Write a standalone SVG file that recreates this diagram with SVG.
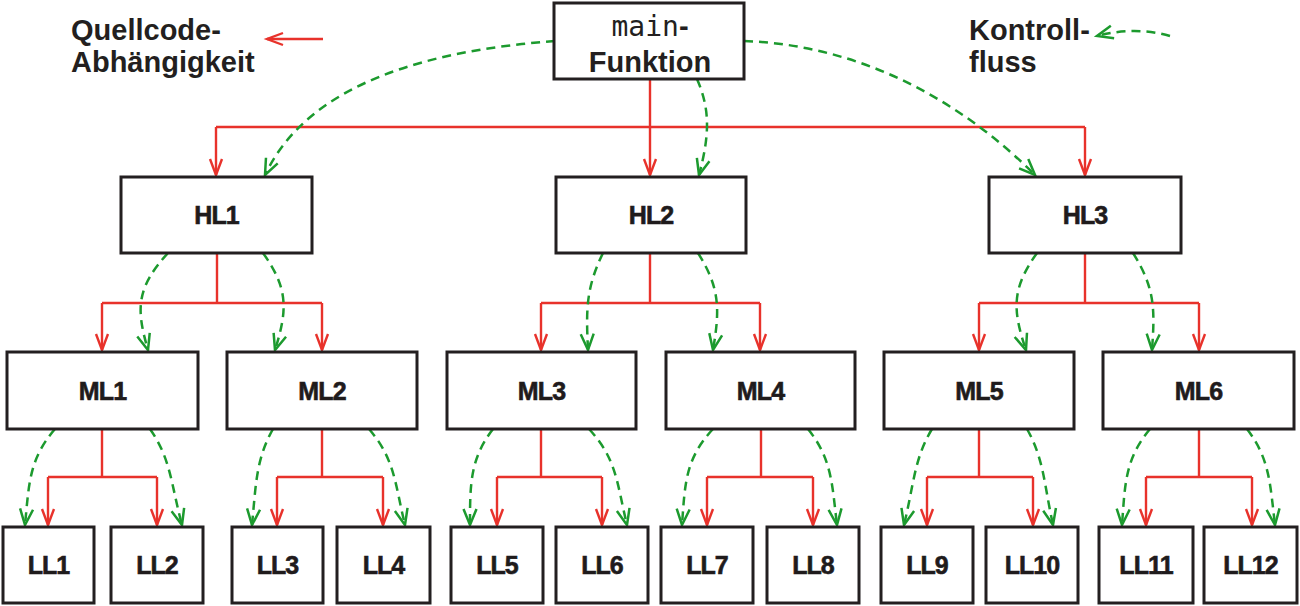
<svg xmlns="http://www.w3.org/2000/svg" width="1300" height="606" viewBox="0 0 1300 606">
<style>
.box{fill:#fff;stroke:#231f20;stroke-width:3}
.lbl{font-family:"Liberation Sans",Arial,sans-serif;font-weight:bold;font-size:25px;letter-spacing:-0.9px;fill:#1f1b1c;stroke:#1f1b1c;stroke-width:0.6;text-anchor:middle}
.big{font-family:"Liberation Sans",Arial,sans-serif;font-weight:bold;font-size:29px;fill:#231f20}
.mono{font-family:"DejaVu Sans Mono","Liberation Mono",monospace;font-weight:normal;font-size:28px}
.red{fill:none;stroke:#e8322b;stroke-width:2.4}
.redA{fill:none;stroke:#e8322b;stroke-width:2.4;marker-end:url(#ar)}
.grn{fill:none;stroke:#1c9a2e;stroke-width:2.5;stroke-dasharray:9 6;marker-end:url(#ag)}
</style>
<defs>
<marker id="ar" markerUnits="userSpaceOnUse" markerWidth="22" markerHeight="22" refX="0" refY="0" orient="auto" viewBox="-18 -9 22 18" overflow="visible">
<path d="M-16,-6 L0,0 L-16,6" fill="none" stroke="#e8322b" stroke-width="2.4"/>
</marker>
<marker id="ag" markerUnits="userSpaceOnUse" markerWidth="22" markerHeight="22" refX="0" refY="0" orient="auto" viewBox="-18 -9 22 18" overflow="visible">
<path d="M-16,-6.5 L0,0 L-16,6.5" fill="none" stroke="#1c9a2e" stroke-width="2.5"/>
</marker>
</defs>
<rect width="1300" height="606" fill="#fff"/>

<g id="legend">
<text class="big" x="71" y="40">Quellcode-</text>
<text class="big" x="71" y="72">Abhängigkeit</text>
<text class="big" x="969" y="40">Kontroll-</text>
<text class="big" x="969" y="72">fluss</text>
</g>

<g id="connectors">
<path class="redA" d="M323,39 L267,39"/>
<path class="grn" d="M1170,36 Q1135,26 1097,36"/>
<!-- main to HL -->
<path class="red" d="M650,79 L650,127 M216,127 L1085,127"/>
<path class="redA" d="M650,127 L650,175"/>
<path class="redA" d="M216,127 L216,175"/>
<path class="redA" d="M1085,127 L1085,175"/>
<path class="grn" d="M555,41 C435,50 310,80 265,175"/>
<path class="grn" d="M744,41 C860,45 960,100 1035,175"/>
<path class="grn" d="M697,79 C710,109 710,134 699,175"/>
<!-- HL to ML -->
<path class="red" d="M217,253 L217,303 M102,303 L322,303"/>
<path class="redA" d="M102,303 L102,350"/>
<path class="redA" d="M322,303 L322,350"/>
<path class="red" d="M650,253 L650,303 M541,303 L760,303"/>
<path class="redA" d="M541,303 L541,350"/>
<path class="redA" d="M760,303 L760,350"/>
<path class="red" d="M1085,253 L1085,303 M979,303 L1199,303"/>
<path class="redA" d="M979,303 L979,350"/>
<path class="redA" d="M1199,303 L1199,350"/>
<path class="grn" d="M168,253 C136,288 136,309 148,350"/>
<path class="grn" d="M263,253 C288,288 288,309 275,350"/>
<path class="grn" d="M603,253 C586,288 586,309 588,350"/>
<path class="grn" d="M698,253 C720,288 720,309 713,350"/>
<path class="grn" d="M1037,253 C1012,288 1012,309 1026,350"/>
<path class="grn" d="M1133,253 C1155,288 1155,309 1152,350"/>
<!-- ML to LL -->
<path class="red" d="M102,429 L102,477 M48,477 L157,477"/>
<path class="redA" d="M48,477 L48,525"/>
<path class="redA" d="M157,477 L157,525"/>
<path class="red" d="M322,429 L322,477 M277,477 L383,477"/>
<path class="redA" d="M277,477 L277,525"/>
<path class="redA" d="M383,477 L383,525"/>
<path class="red" d="M541,429 L541,477 M497,477 L602,477"/>
<path class="redA" d="M497,477 L497,525"/>
<path class="redA" d="M602,477 L602,525"/>
<path class="red" d="M761,429 L761,477 M707,477 L813,477"/>
<path class="redA" d="M707,477 L707,525"/>
<path class="redA" d="M813,477 L813,525"/>
<path class="red" d="M979,429 L979,477 M927,477 L1033,477"/>
<path class="redA" d="M927,477 L927,525"/>
<path class="redA" d="M1033,477 L1033,525"/>
<path class="red" d="M1199,429 L1199,477 M1146,477 L1252,477"/>
<path class="redA" d="M1146,477 L1146,525"/>
<path class="redA" d="M1252,477 L1252,525"/>
<path class="grn" d="M55,429 C29,459 29,484 25,525"/>
<path class="grn" d="M150,429 C171,459 171,484 182,525"/>
<path class="grn" d="M273,429 C256,459 256,484 252,525"/>
<path class="grn" d="M369,429 C395,459 395,484 405,525"/>
<path class="grn" d="M493,429 C470,459 470,484 470,525"/>
<path class="grn" d="M589,429 C617,459 617,484 627,525"/>
<path class="grn" d="M713,429 C685,459 685,484 682,525"/>
<path class="grn" d="M808,429 C832,459 832,484 837,525"/>
<path class="grn" d="M932,429 C914,459 914,484 904,525"/>
<path class="grn" d="M1027,429 C1044,459 1044,484 1053,525"/>
<path class="grn" d="M1150,429 C1125,459 1125,484 1122,525"/>
<path class="grn" d="M1247,429 C1270,459 1270,484 1275,525"/>
</g>

<g id="main">
<rect class="box" x="554" y="3" width="190" height="76"/>
<text class="big" x="650" y="36" text-anchor="middle"><tspan class="mono">main</tspan>-</text>
<text class="big" x="650" y="72" text-anchor="middle">Funktion</text>
</g>

<g id="HL1"><rect class="box" x="121" y="177" width="191" height="76"/><text class="lbl" x="216.5" y="224">HL1</text></g>
<g id="HL2"><rect class="box" x="556" y="177" width="190" height="76"/><text class="lbl" x="651" y="224">HL2</text></g>
<g id="HL3"><rect class="box" x="989" y="177" width="192" height="76"/><text class="lbl" x="1085" y="224">HL3</text></g>

<g id="ML1"><rect class="box" x="7" y="352" width="191" height="77"/><text class="lbl" x="102.5" y="400">ML1</text></g>
<g id="ML2"><rect class="box" x="227" y="352" width="190" height="77"/><text class="lbl" x="322" y="400">ML2</text></g>
<g id="ML3"><rect class="box" x="447" y="352" width="189" height="77"/><text class="lbl" x="541.5" y="400">ML3</text></g>
<g id="ML4"><rect class="box" x="666" y="352" width="189" height="77"/><text class="lbl" x="760.5" y="400">ML4</text></g>
<g id="ML5"><rect class="box" x="884" y="352" width="190" height="77"/><text class="lbl" x="979" y="400">ML5</text></g>
<g id="ML6"><rect class="box" x="1103" y="352" width="191" height="77"/><text class="lbl" x="1198.5" y="400">ML6</text></g>

<g id="LL1"><rect class="box" x="3" y="527" width="91" height="76"/><text class="lbl" x="48.5" y="574">LL1</text></g>
<g id="LL2"><rect class="box" x="111" y="527" width="92" height="76"/><text class="lbl" x="157" y="574">LL2</text></g>
<g id="LL3"><rect class="box" x="232" y="527" width="91" height="76"/><text class="lbl" x="277.5" y="574">LL3</text></g>
<g id="LL4"><rect class="box" x="337" y="527" width="93" height="76"/><text class="lbl" x="383.5" y="574">LL4</text></g>
<g id="LL5"><rect class="box" x="451" y="527" width="92" height="76"/><text class="lbl" x="497" y="574">LL5</text></g>
<g id="LL6"><rect class="box" x="556" y="527" width="92" height="76"/><text class="lbl" x="602" y="574">LL6</text></g>
<g id="LL7"><rect class="box" x="661" y="527" width="92" height="76"/><text class="lbl" x="707" y="574">LL7</text></g>
<g id="LL8"><rect class="box" x="767" y="527" width="92" height="76"/><text class="lbl" x="813" y="574">LL8</text></g>
<g id="LL9"><rect class="box" x="881" y="527" width="92" height="76"/><text class="lbl" x="927" y="574">LL9</text></g>
<g id="LL10"><rect class="box" x="986" y="527" width="92" height="76"/><text class="lbl" x="1032" y="574">LL10</text></g>
<g id="LL11"><rect class="box" x="1099" y="527" width="94" height="76"/><text class="lbl" x="1146" y="574">LL11</text></g>
<g id="LL12"><rect class="box" x="1204" y="527" width="93" height="76"/><text class="lbl" x="1250.5" y="574">LL12</text></g>
</svg>
